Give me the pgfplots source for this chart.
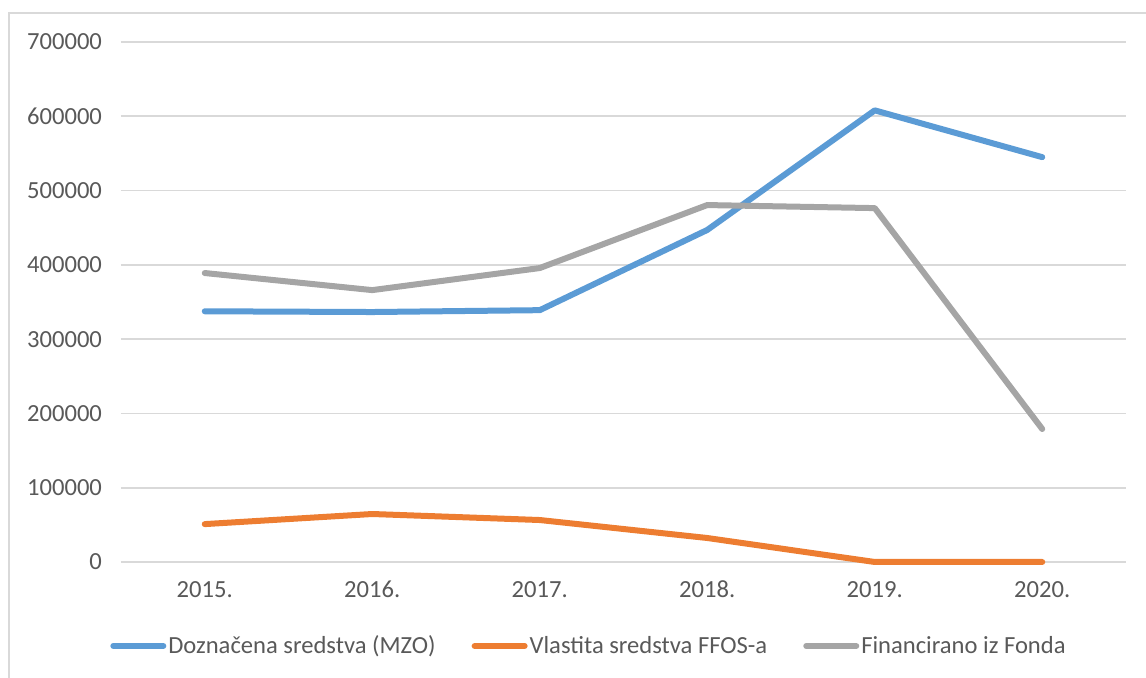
\documentclass[border=0pt]{standalone}
\usepackage{pgfplots}
\pgfplotsset{compat=1.18}
\usepackage{fontspec}
\setmainfont{Carlito}
\definecolor{cblue}{HTML}{5B9BD5}
\definecolor{corange}{HTML}{ED7D31}
\definecolor{cgray}{HTML}{A5A5A5}
\definecolor{gridc}{HTML}{D9D9D9}
\definecolor{txt}{HTML}{595959}
\begin{document}
\begin{tikzpicture}
\useasboundingbox (0,0) rectangle (573pt,339pt);
\draw[gridc, line width=0.8pt] (4.5pt,-10pt) -- (4.5pt,332.5pt) -- (600pt,332.5pt);
\begin{axis}[
  at={(60.5pt,58pt)}, anchor=south west,
  scale only axis, width=502.5pt, height=260pt,
  xmin=-0.5, xmax=5.5, ymin=0, ymax=700000,
  xtick={0,1,2,3,4,5},
  xticklabels={2015.,2016.,2017.,2018.,2019.,2020.},
  ytick={0,100000,...,700000},
  scaled y ticks=false,
  yticklabel={\pgfmathprintnumber[fixed,1000 sep={}]{\tick}},
  /pgf/number format/assume math mode=true,
  axis line style={draw=none},
  major tick length=0pt,
  xmajorgrids=false, ymajorgrids=true,
  major grid style={color=gridc, line width=0.8pt},
  clip=false,
  tick label style={font=\fontsize{12.3}{14}\selectfont, text=txt},
  yticklabel style={xshift=-6pt},
  xticklabel style={yshift=-6pt},
  legend style={at={(axis description cs:0.4657,-0.1615)}, anchor=center, draw=none, fill=none,
    font=\fontsize{12.3}{14}\selectfont, text=txt,
    nodes={inner xsep=1pt},
    /tikz/every even column/.append style={column sep=17pt},
    legend cell align=left},
  legend columns=3,
  legend image code/.code={\draw[#1, line cap=round] (0pt,0pt) -- (25pt,0pt);},
  every axis plot/.append style={line width=3pt, line cap=round, line join=round, mark=none},
]
\addplot[cblue] coordinates {(0,337500) (1,336500) (2,339000) (3,447000) (4,608000) (5,545000)};
\addlegendentry{Doznačena sredstva (MZO)}
\addplot[corange] coordinates {(0,51000) (1,64600) (2,56500) (3,32300) (4,0) (5,0)};
\addlegendentry{Vlastita sredstva FFOS-a}
\addplot[cgray] coordinates {(0,389000) (1,366000) (2,395700) (3,480500) (4,476400) (5,179000)};
\addlegendentry{Financirano iz Fonda}
\end{axis}
\end{tikzpicture}
\end{document}
